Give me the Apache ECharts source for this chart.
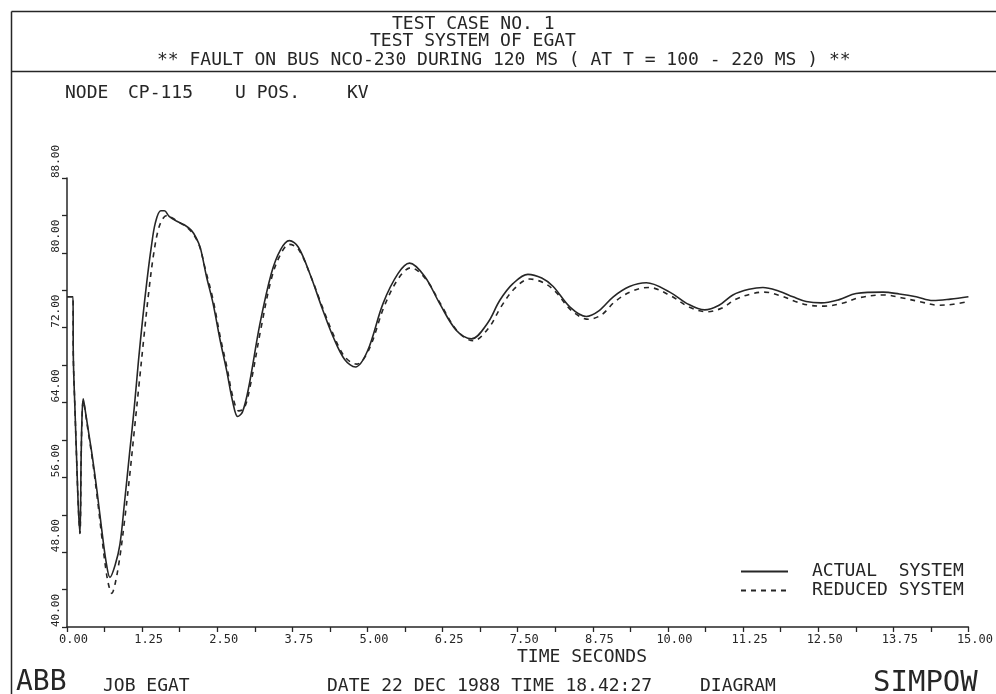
<!DOCTYPE html>
<html>
<head>
<meta charset="utf-8">
<script src="https://cdn.jsdelivr.net/npm/echarts@6.0.0/dist/echarts.min.js"></script>
<style>
  html, body { margin: 0; padding: 0; background: #fff; }
  #chart { width: 996px; height: 694px; }
</style>
</head>
<body>
<div id="chart"></div>
<script>
// time (s) and voltage (kV)
var timeActual = [
  0, 0.10, 0.105, 0.133, 0.161, 0.19, 0.216, 0.235, 0.25, 0.27,
  0.30, 0.35, 0.42, 0.50, 0.58, 0.65, 0.715, 0.80, 0.88, 0.96,
  1.04, 1.12, 1.19, 1.26, 1.33, 1.40, 1.47, 1.56, 1.62, 1.70,
  1.82, 1.95, 2.07, 2.15, 2.22, 2.32, 2.43, 2.55, 2.66, 2.76,
  2.84, 2.92, 3.02, 3.21, 3.40, 3.55, 3.70, 3.85, 4.05, 4.25,
  4.43, 4.62, 4.80, 5.00, 5.26, 5.51, 5.70, 5.95, 6.20, 6.48,
  6.73, 7.00, 7.20, 7.42, 7.67, 7.90, 8.09, 8.37, 8.64, 8.85,
  9.09, 9.36, 9.64, 10.03, 10.31, 10.61, 10.85, 11.08, 11.35, 11.58,
  11.85, 12.08, 12.30, 12.55, 12.85, 13.13, 13.58, 13.85, 14.13, 14.41,
  14.70, 15.00
];
var voltActual = [
  75.3, 75.3, 69.0, 63.2, 57.8, 52.6, 50.0, 58.0, 62.5, 64.4,
  63.3, 61.2, 58.3, 54.5, 50.3, 47.0, 45.3, 46.6, 48.8, 53.5,
  58.5, 63.5, 68.5, 73.0, 77.0, 80.5, 83.2, 84.5, 84.5, 83.9,
  83.4, 83.0, 82.4, 81.6, 80.5, 77.5, 74.6, 70.6, 67.3, 64.0,
  62.5, 63.0, 65.5, 72.4, 77.8, 80.3, 81.3, 80.6, 77.6, 74.0,
  71.0, 68.6, 67.8, 69.5, 74.6, 77.8, 78.9, 77.5, 74.6, 71.7,
  70.8, 72.5, 74.9, 76.7, 77.7, 77.3, 76.4, 74.2, 73.2, 73.8,
  75.3, 76.4, 76.8, 75.8, 74.6, 73.9, 74.4, 75.5, 76.1, 76.3,
  75.9, 75.3, 74.8, 74.65, 75.0, 75.65, 75.8, 75.6, 75.3, 74.9,
  75.05, 75.3
];
var timeReduced = [
  0, 0.10, 0.105, 0.133, 0.161, 0.19, 0.216, 0.235, 0.25, 0.27,
  0.30, 0.35, 0.42, 0.50, 0.58, 0.65, 0.70, 0.745, 0.80, 0.88,
  0.96, 1.04, 1.12, 1.20, 1.28, 1.36, 1.44, 1.52, 1.60, 1.68,
  1.76, 1.88, 2.00, 2.10, 2.20, 2.30, 2.43, 2.55, 2.66, 2.76,
  2.86, 2.95, 3.05, 3.23, 3.40, 3.55, 3.70, 3.85, 4.05, 4.25,
  4.43, 4.62, 4.82, 5.02, 5.28, 5.52, 5.72, 5.97, 6.22, 6.50,
  6.76, 7.02, 7.22, 7.45, 7.70, 7.93, 8.12, 8.40, 8.68, 8.90,
  9.12, 9.40, 9.68, 10.05, 10.35, 10.65, 10.90, 11.12, 11.38, 11.60,
  11.88, 12.12, 12.35, 12.60, 12.90, 13.18, 13.60, 13.88, 14.18, 14.50,
  14.75, 15.00
];
var voltReduced = [
  75.3, 75.3, 69.0, 63.2, 57.8, 52.6, 50.0, 57.8, 62.3, 64.2,
  63.2, 61.0, 58.0, 54.0, 49.6, 46.0, 44.3, 43.6, 44.6, 47.5,
  51.5, 56.0, 61.0, 66.0, 71.0, 75.8, 79.8, 82.5, 83.7, 84.0,
  83.7, 83.2, 82.7, 82.0, 80.8, 78.3, 75.0, 71.0, 67.8, 64.6,
  63.1, 63.4, 65.8, 72.0, 77.2, 79.8, 80.9, 80.4, 77.6, 74.2,
  71.3, 68.9, 68.1, 69.6, 74.3, 77.3, 78.4, 77.2, 74.5, 71.6,
  70.6, 72.0, 74.2, 76.2, 77.2, 76.8, 75.9, 73.8, 72.9, 73.4,
  74.8, 75.9, 76.3, 75.4, 74.2, 73.7, 74.1, 75.0, 75.6, 75.8,
  75.4, 74.8, 74.4, 74.3, 74.6, 75.2, 75.5, 75.2, 74.8, 74.4,
  74.5, 74.8
];
var seriesNames = ["ACTUAL  SYSTEM", "REDUCED SYSTEM"];

var ink = "#262626";
var mono = "DejaVu Sans Mono";

function pairs(ts, vs) {
  var out = [];
  for (var i = 0; i < ts.length; i++) out.push([ts[i], vs[i]]);
  return out;
}

function txt(x, y, s, size) {
  return {
    type: "text", left: x, top: y - size / 2 - 1, z: 10,
    style: { text: s, fill: ink, font: size + "px '" + mono + "'" }
  };
}

var myChart = echarts.init(document.getElementById("chart"));
myChart.setOption({
  animation: false,
  backgroundColor: "#fff",
  grid: { left: 67, right: 27, top: 178, bottom: 67 },
  legend: {
    orient: "vertical",
    left: 735,
    top: 557,
    itemWidth: 47,
    itemHeight: 10,
    itemGap: 0,
    selectedMode: false,
    itemStyle: { opacity: 0 },
    textStyle: { fontFamily: mono, fontSize: 18, color: ink, lineHeight: 19, padding: [0, 0, 0, 19] },
    data: seriesNames
  },
  xAxis: {
    type: "value",
    min: 0,
    max: 15,
    interval: 1.25,
    axisLine: { lineStyle: { color: ink, width: 1.5 } },
    axisTick: { show: true, inside: false, length: 5, lineStyle: { color: ink, width: 1.3 } },
    minorTick: { show: true, splitNumber: 2, length: 5, lineStyle: { color: ink, width: 1.3 } },
    splitLine: { show: false },
    axisLabel: {
      color: ink, fontFamily: mono, fontSize: 12, margin: 7,
      padding: [0, 0, 0, 13],
      formatter: function (v) { return v.toFixed(2); }
    }
  },
  yAxis: {
    type: "value",
    min: 40,
    max: 88,
    interval: 8,
    axisLine: { show: true, lineStyle: { color: ink, width: 1.5 } },
    axisTick: { show: true, inside: false, length: 5, lineStyle: { color: ink, width: 1.3 } },
    minorTick: { show: true, splitNumber: 2, length: 5, lineStyle: { color: ink, width: 1.3 } },
    splitLine: { show: false },
    axisLabel: {
      color: ink, fontFamily: mono, fontSize: 11, margin: 5,
      rotate: 90, align: "left", verticalAlign: "bottom",
      formatter: function (v) { return v.toFixed(2); }
    }
  },
  series: [
    {
      name: seriesNames[0],
      type: "line",
      data: pairs(timeActual, voltActual),
      symbol: "none",
      smooth: 0.35,
      lineStyle: { color: ink, width: 1.6 },
      itemStyle: { color: ink }
    },
    {
      name: seriesNames[1],
      type: "line",
      data: pairs(timeReduced, voltReduced),
      symbol: "none",
      smooth: 0.35,
      lineStyle: { color: ink, width: 1.6, type: [5, 5] },
      itemStyle: { color: ink }
    }
  ],
  graphic: [
    { type: "line", shape: { x1: 11.5, y1: 11.5, x2: 996, y2: 11.5 }, style: { stroke: ink, lineWidth: 1.5 } },
    { type: "line", shape: { x1: 11.5, y1: 11.5, x2: 11.5, y2: 694 }, style: { stroke: ink, lineWidth: 1.5 } },
    { type: "line", shape: { x1: 11.5, y1: 71.5, x2: 996, y2: 71.5 }, style: { stroke: ink, lineWidth: 1.5 } },
    txt(392, 25, "TEST CASE NO. 1", 18),
    txt(370, 42, "TEST SYSTEM OF EGAT", 18),
    txt(157, 61, "** FAULT ON BUS NCO-230 DURING 120 MS ( AT T = 100 - 220 MS ) **", 18),
    txt(65, 94, "NODE", 18),
    txt(128, 94, "CP-115", 18),
    txt(235, 94, "U POS.", 18),
    txt(347, 94, "KV", 18),
    txt(517, 658, "TIME SECONDS", 18),
    txt(16, 684, "ABB", 28),
    txt(103, 687, "JOB EGAT", 18),
    txt(327, 687, "DATE 22 DEC 1988 TIME 18.42:27", 18),
    txt(700, 687, "DIAGRAM", 18),
    txt(873, 684, "SIMPOW", 29)
  ]
});
</script>
</body>
</html>
